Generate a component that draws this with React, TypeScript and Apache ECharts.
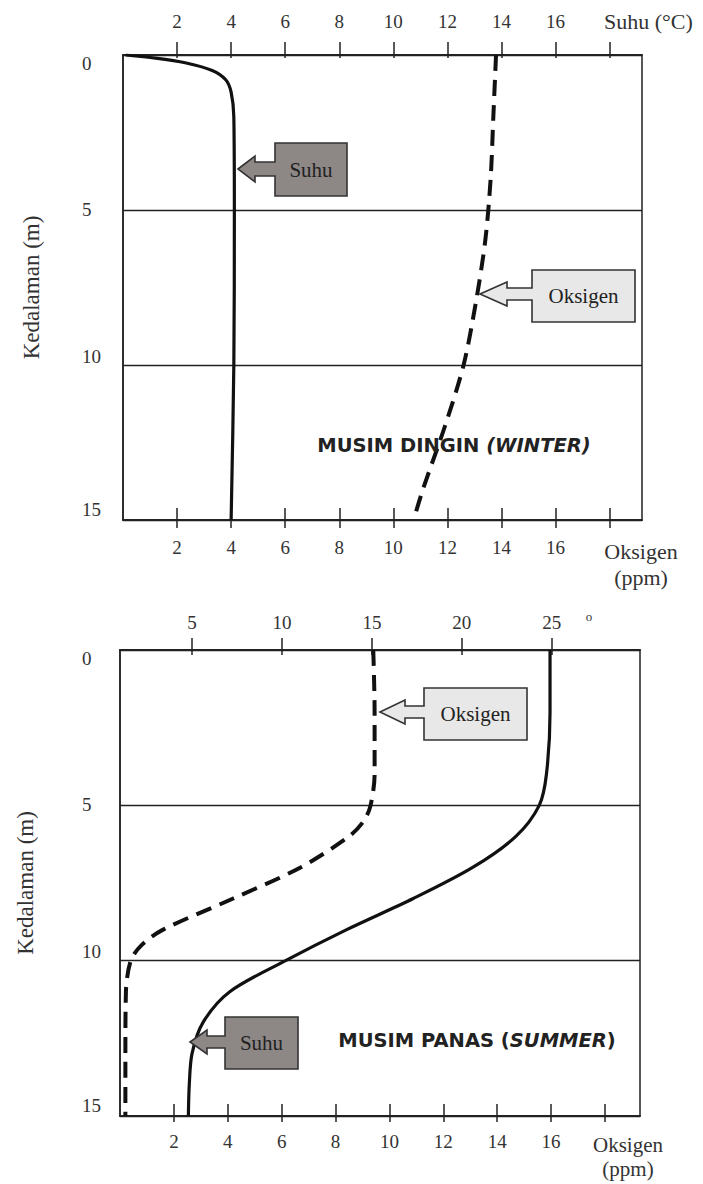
import React, { useEffect, useRef } from "react";
import * as echarts from "echarts";

// ---------- DATA ----------
// Winter (top panel): depth (m) vs temperature (°C) and oxygen (ppm)
const winterTempDepth = [0, 0.1, 0.25, 0.5, 0.8, 1.2, 2, 5, 10, 15];
const winterTemp = [0.1, 1.2, 2.3, 3.3, 3.8, 4.0, 4.1, 4.12, 4.1, 4.0];
const winterOxyDepth = [0, 2, 4, 6, 8, 10, 12, 14, 15];
const winterOxy = [13.8, 13.7, 13.6, 13.4, 13.05, 12.6, 11.9, 11.1, 10.75];

// Summer (bottom panel)
const summerTempDepth = [0, 2, 4, 5, 6, 7, 8, 9, 10, 11, 12, 13, 14, 15];
const summerTemp = [24.9, 24.9, 24.7, 24.3, 23.0, 20.6, 17.3, 13.6, 10.2, 7.1, 5.6, 5.0, 4.85, 4.8];
const summerOxyDepth = [0, 2, 4, 5, 5.5, 6, 7, 8, 9, 9.5, 10, 11, 13, 15];
const summerOxy = [9.4, 9.45, 9.45, 9.3, 9.05, 8.5, 6.7, 4.2, 1.6, 0.8, 0.4, 0.22, 0.2, 0.2];

// Tick values / labels
const depthTicks = [0, 5, 10, 15];
const winterTicks = [2, 4, 6, 8, 10, 12, 14, 16, 18];
const winterLabels = [2, 4, 6, 8, 10, 12, 14, 16];
const summerTempTicks = [5, 10, 15, 20, 25];
const summerOxyTicks = [2, 4, 6, 8, 10, 12, 14, 16, 18];
const summerOxyLabels = [2, 4, 6, 8, 10, 12, 14, 16];

const SERIF = "'Liberation Serif', 'Times New Roman', serif";
const SANS = "'DejaVu Sans', sans-serif";
const INK = "#222";

const zip = (xs: number[], ys: number[]) => xs.map((x, i) => [x, ys[i]]);

function xAxes(
  grid: number,
  position: "top" | "bottom",
  min: number,
  max: number,
  ticks: number[],
  labels: number[],
  outLen: number,
  inLen: number,
  margin: number
) {
  const base = {
    gridIndex: grid,
    type: "value",
    position,
    min,
    max,
    splitLine: { show: false },
    axisLine: { show: true, lineStyle: { color: INK, width: 1.5 } },
  };
  return [
    {
      ...base,
      axisTick: { show: true, length: outLen, customValues: ticks, lineStyle: { color: INK, width: 1.5 } },
      axisLabel: {
        show: true,
        customValues: labels,
        margin,
        fontFamily: SERIF,
        fontSize: 19,
        color: "#333",
      },
    },
    {
      ...base,
      axisTick: { show: true, inside: true, length: inLen, customValues: ticks, lineStyle: { color: INK, width: 1.5 } },
      axisLabel: { show: false },
    },
  ];
}

function yAxis(grid: number, margin: number, nameGap: number) {
  const r = (pad: number[]) => ({ fontFamily: SERIF, fontSize: 19, color: "#333", padding: pad });
  return {
    gridIndex: grid,
    type: "value",
    inverse: true,
    min: depthTicks[0],
    max: depthTicks[depthTicks.length - 1],
    interval: 5,
    axisLine: { show: true, lineStyle: { color: INK, width: 1.5 } },
    axisTick: { show: false },
    splitLine: { show: true, lineStyle: { color: INK, width: 1.3 } },
    axisLabel: {
      align: "left",
      margin,
      formatter: (v: number) => `{s${v}|${v}}`,
      rich: {
        s0: r([16, 0, 0, 0]),
        s5: r([0, 0, 2, 0]),
        s10: r([0, 0, 18, 0]),
        s15: r([0, 0, 22, 0]),
      },
    },
    name: "Kedalaman (m)",
    nameLocation: "middle",
    nameRotate: 90,
    nameGap,
    nameTextStyle: { fontFamily: SERIF, fontSize: 23, color: "#333" },
  };
}

function arrowBox(
  tipX: number,
  tipY: number,
  headBack: number,
  headHalf: number,
  shaftHalf: number,
  l: number,
  t: number,
  r: number,
  b: number,
  fill: string,
  label: string
) {
  return [
    {
      type: "polygon",
      z: 100,
      shape: {
        points: [
          [tipX, tipY],
          [headBack, tipY - headHalf],
          [headBack, tipY - shaftHalf],
          [l, tipY - shaftHalf],
          [l, t],
          [r, t],
          [r, b],
          [l, b],
          [l, tipY + shaftHalf],
          [headBack, tipY + shaftHalf],
          [headBack, tipY + headHalf],
        ],
      },
      style: { fill, stroke: "#333", lineWidth: 1.6 },
    },
    {
      type: "text",
      z: 101,
      x: (l + r) / 2,
      y: (t + b) / 2,
      style: {
        text: label,
        fontFamily: SERIF,
        fontSize: 21,
        fill: "#222",
        align: "center",
        verticalAlign: "middle",
      },
    },
  ];
}

function plainText(x: number, y: number, text: string, size: number, align = "center") {
  return {
    type: "text",
    z: 100,
    x,
    y,
    style: { text, fontFamily: SERIF, fontSize: size, fill: "#333", align, verticalAlign: "middle" },
  };
}

function titleText(x: number, y: number, text: string) {
  const n = { fontFamily: SANS, fontWeight: "bold", fontSize: 19.5, fill: "#222" };
  return {
    type: "text",
    z: 100,
    x,
    y,
    style: {
      text,
      align: "center",
      verticalAlign: "middle",
      fontFamily: SANS,
      fontWeight: "bold",
      fontSize: 19.5,
      fill: "#222",
      rich: { n, i: { ...n, fontStyle: "italic" } },
    },
  };
}

export default function App() {
  const ref = useRef<HTMLDivElement>(null);
  useEffect(() => {
    document.body.style.margin = "0";
    const chart = echarts.init(ref.current!, null, { renderer: "svg" });
    const solid = { color: "#111", width: 3.2 };
    const dashed = { color: "#111", width: 4, type: [16, 9] };
    chart.setOption({
      animation: false,
      backgroundColor: "#fff",
      grid: [
        { left: 123, top: 55, width: 519, height: 465, show: true, borderColor: INK, borderWidth: 1.5 },
        { left: 120, top: 650, width: 520, height: 466, show: true, borderColor: INK, borderWidth: 1.5 },
      ],
      xAxis: [
        ...xAxes(0, "top", 0, 19.2, winterTicks, winterLabels, 13, 3, 24),
        ...xAxes(0, "bottom", 0, 19.2, winterTicks, winterLabels, 8, 12, 18),
        ...xAxes(1, "top", 1, 29.9, summerTempTicks, summerTempTicks, 12, 5, 18),
        ...xAxes(1, "bottom", 0, 19.3, summerOxyTicks, summerOxyLabels, 6, 12, 16),
      ],
      yAxis: [yAxis(0, 41, 80), yAxis(1, 38, 83)],
      series: [
        {
          type: "line",
          name: "Suhu (winter)",
          xAxisIndex: 0,
          yAxisIndex: 0,
          data: zip(winterTemp, winterTempDepth),
          smooth: 0.3,
          symbol: "none",
          lineStyle: solid,
        },
        {
          type: "line",
          name: "Oksigen (winter)",
          xAxisIndex: 2,
          yAxisIndex: 0,
          data: zip(winterOxy, winterOxyDepth),
          smooth: 0.3,
          symbol: "none",
          lineStyle: dashed,
        },
        {
          type: "line",
          name: "Suhu (summer)",
          xAxisIndex: 4,
          yAxisIndex: 1,
          data: zip(summerTemp, summerTempDepth),
          smooth: 0.3,
          symbol: "none",
          lineStyle: solid,
        },
        {
          type: "line",
          name: "Oksigen (summer)",
          xAxisIndex: 6,
          yAxisIndex: 1,
          data: zip(summerOxy, summerOxyDepth),
          smooth: 0.3,
          symbol: "none",
          lineStyle: dashed,
        },
      ],
      graphic: [
        plainText(604, 21, "Suhu (°C)", 22, "left"),
        plainText(641, 551, "Oksigen", 22),
        plainText(641, 577, "(ppm)", 22),
        plainText(628, 1145, "Oksigen", 21),
        plainText(628, 1169, "(ppm)", 21),
        plainText(589, 616, "o", 13),
        titleText(454, 445, "{n|MUSIM DINGIN }{i|(WINTER)}"),
        titleText(477, 1040, "{n|MUSIM PANAS (}{i|SUMMER}{n|)}"),
        ...arrowBox(238, 169, 255, 13, 7, 275, 143, 347, 196, "#8d8886", "Suhu"),
        ...arrowBox(480, 294, 507, 12, 6, 532, 270, 635, 322, "#e8e8e8", "Oksigen"),
        ...arrowBox(380, 712, 405, 12, 6, 424, 688, 527, 740, "#e8e8e8", "Oksigen"),
        ...arrowBox(190, 1042, 207, 12, 6, 225, 1017, 298, 1069, "#8d8886", "Suhu"),
      ],
    });
    return () => chart.dispose();
  }, []);
  return <div ref={ref} style={{ width: 703, height: 1184 }} />;
}
